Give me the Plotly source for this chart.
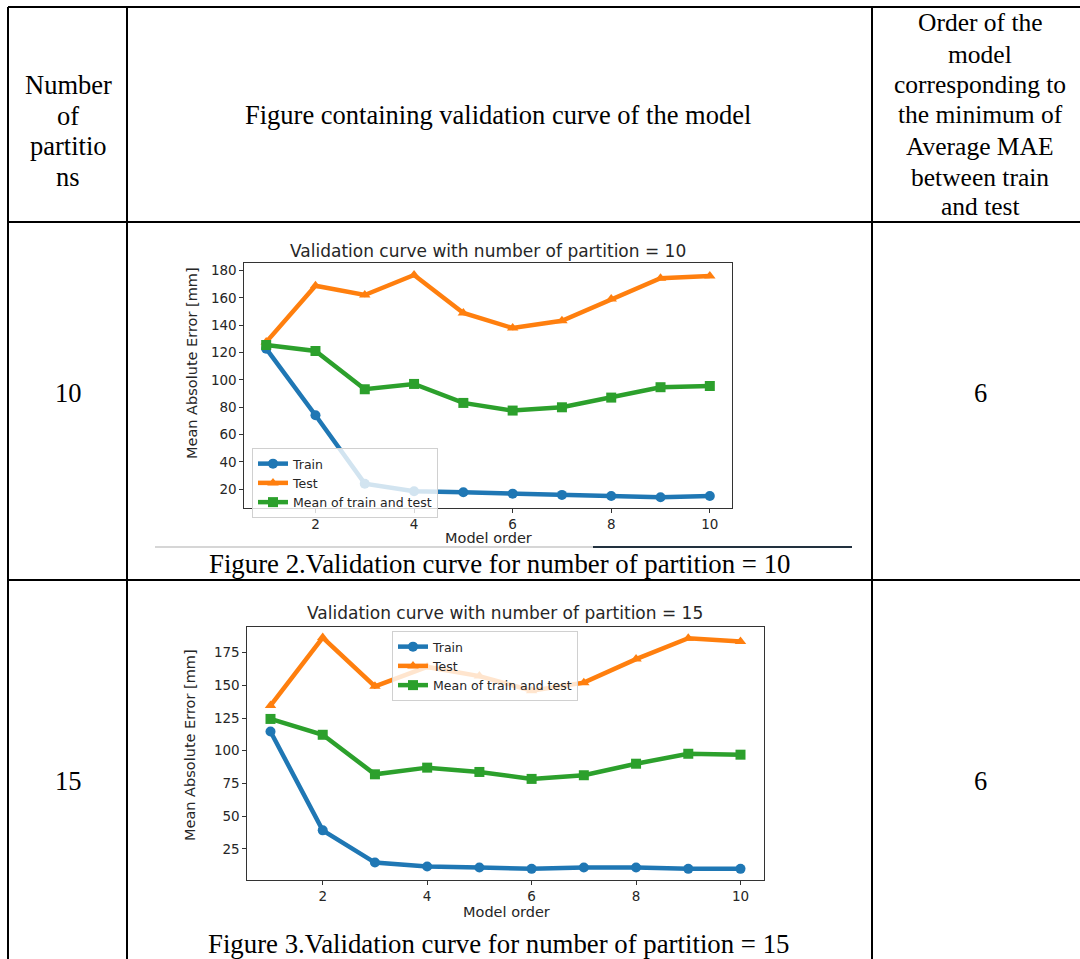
import plotly.graph_objects as go

# ---------------- data ----------------
model_order = [1, 2, 3, 4, 5, 6, 7, 8, 9, 10]

train_p10 = [122.9, 74.2, 24.1, 18.5, 17.8, 16.8, 15.9, 15.1, 14.2, 15.1]
test_p10 = [127.7, 169.0, 162.2, 176.8, 149.0, 138.0, 143.3, 159.3, 174.4, 176.1]
mean_p10 = [125.6, 121.2, 93.2, 97.1, 83.2, 77.6, 80.0, 87.1, 94.7, 95.6]

train_p15 = [114.7, 39.2, 14.6, 11.6, 10.8, 9.8, 10.8, 10.8, 9.8, 9.8]
test_p15 = [134.5, 186.4, 149.2, 164.0, 157.0, 145.9, 152.0, 170.0, 185.9, 183.4]
mean_p15 = [124.3, 112.2, 82.0, 87.1, 83.8, 78.5, 81.3, 90.1, 97.7, 97.0]

x_ticks = [2, 4, 6, 8, 10]
y_ticks_p10 = [20, 40, 60, 80, 100, 120, 140, 160, 180]
y_ticks_p15 = [25, 50, 75, 100, 125, 150, 175]

series_names = ["Train", "Test", "Mean of train and test"]
header_left = ["Number", "of", "partitio", "ns"]
header_mid = "Figure containing validation curve of the model"
header_right = ["Order of the", "model", "corresponding to", "the minimum of",
                "Average MAE", "between train", "and test"]
partitions = ["10", "15"]
best_order = ["6", "6"]
chart_titles = ["Validation curve with number of partition = 10",
                "Validation curve with number of partition = 15"]
captions = ["Figure 2.Validation curve for number of partition = 10",
            "Figure 3.Validation curve for number of partition = 15"]

# ---------------- layout helpers ----------------
W, H = 1080, 959
def px(x):
    return x / W
def py(y):
    return 1 - y / H

COLORS = ["#1f77b4", "#ff7f0e", "#2ca02c"]
SYMBOLS = ["circle", "triangle-up", "square"]
SERIF = "Liberation Serif, Times New Roman, serif"
SANS = "DejaVu Sans, sans-serif"
TXT = "#262626"

fig = go.Figure()

datasets = [
    (train_p10, test_p10, mean_p10, "x", "y", "legend"),
    (train_p15, test_p15, mean_p15, "x2", "y2", "legend2"),
]
for tr, te, me, xa, ya, lg in datasets:
    for vals, name, col, sym in zip([tr, te, me], series_names, COLORS, SYMBOLS):
        fig.add_trace(go.Scatter(
            x=model_order, y=vals, name=name, mode="lines+markers",
            line=dict(color=col, width=4.5),
            marker=dict(color=col, symbol=sym, size=10),
            xaxis=xa, yaxis=ya, legend=lg,
        ))

axis_common = dict(
    showline=True, mirror=True, linecolor="#333", linewidth=1.2,
    ticks="outside", ticklen=3.5, tickcolor="#333",
    tickfont=dict(family=SANS, size=13.5, color=TXT),
    showgrid=False, zeroline=False,
)

legend_common = dict(
    xanchor="left", yanchor="top",
    bgcolor="rgba(255,255,255,0.8)", bordercolor="#d0d0d0", borderwidth=1,
    font=dict(family=SANS, size=12.5, color=TXT),
    itemwidth=30, tracegroupgap=0,
)

fig.update_layout(
    width=W, height=H,
    margin=dict(l=0, r=0, t=0, b=0),
    paper_bgcolor="white", plot_bgcolor="white",
    xaxis=dict(domain=[px(244), px(732)], range=[0.55, 10.45], tickvals=x_ticks,
               anchor="y", **axis_common),
    yaxis=dict(domain=[py(508), py(263)], range=[6.3, 185.6], tickvals=y_ticks_p10,
               anchor="x", **axis_common),
    xaxis2=dict(domain=[px(247), px(764)], range=[0.55, 10.45], tickvals=x_ticks,
                anchor="y2", **axis_common),
    yaxis2=dict(domain=[py(880), py(627)], range=[1.3, 194.5], tickvals=y_ticks_p15,
                anchor="x2", **axis_common),
    legend=dict(x=px(252), y=py(448), **legend_common),
    legend2=dict(x=px(392), y=py(631), **legend_common),
    showlegend=True,
)

shapes = []
def hline(x0, x1, y, color="black", width=2):
    shapes.append(dict(type="line", xref="paper", yref="paper",
                       x0=px(x0), x1=px(x1), y0=py(y), y1=py(y),
                       line=dict(color=color, width=width)))
def vline(x, y0, y1, color="black", width=2):
    shapes.append(dict(type="line", xref="paper", yref="paper",
                       x0=px(x), x1=px(x), y0=py(y0), y1=py(y1),
                       line=dict(color=color, width=width)))

# table grid
hline(8, 1080, 7)
hline(8, 1080, 222)
hline(8, 1080, 580)
vline(8, 7, 959)
vline(127, 7, 959)
vline(872, 7, 959)
# decorative lines under first chart
hline(155, 593, 547, color="#c8c8c8", width=1.5)
hline(593, 852, 547, color="#22313f", width=2)

annotations = []
def text(s, x, y, size=26.5, family=SERIF, color="black", angle=0):
    annotations.append(dict(text=s, x=px(x), y=py(y), xref="paper", yref="paper",
                            showarrow=False, xanchor="center", yanchor="middle",
                            textangle=angle,
                            font=dict(family=family, size=size, color=color)))

for s, y in zip(header_left, [85, 116, 146, 177]):
    text(s, 68, y)
text(header_mid, 498, 115)
for s, y in zip(header_right, [23, 54, 84, 115, 146, 177, 207]):
    text(s, 980, y, size=25.5)

text(partitions[0], 68, 393)
text(best_order[0], 980, 393)
text(partitions[1], 68, 781)
text(best_order[1], 980, 781)

text(captions[0], 499, 564, size=26.8)
text(captions[1], 498, 944, size=26.8)

# chart titles and axis labels
text(chart_titles[0], 488, 251, size=17, family=SANS, color=TXT)
text(chart_titles[1], 505, 613, size=17, family=SANS, color=TXT)
text("Model order", 488, 538, size=14.5, family=SANS, color=TXT)
text("Model order", 506, 912, size=14.5, family=SANS, color=TXT)
text("Mean Absolute Error [mm]", 192, 363, size=14.5, family=SANS, color=TXT, angle=-90)
text("Mean Absolute Error [mm]", 190, 745, size=14.5, family=SANS, color=TXT, angle=-90)

fig.update_layout(shapes=shapes, annotations=annotations)

fig.write_html("out.html",
               config={"displayModeBar": False},
               post_script="document.body.style.margin='0';document.body.style.overflow='hidden';")
